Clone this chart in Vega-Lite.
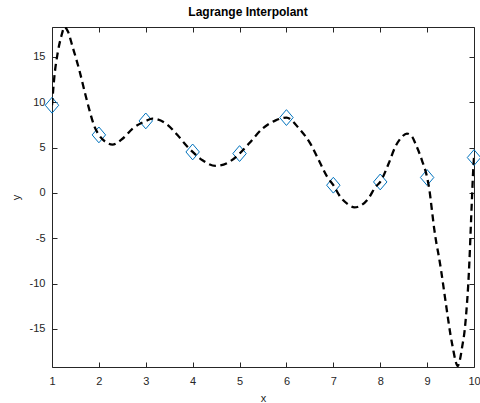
{
  "$schema": "https://vega.github.io/schema/vega-lite/v6.json",
  "width": 422,
  "height": 340,
  "autosize": {"type": "none"},
  "padding": {"left": 52, "top": 27, "right": 6, "bottom": 36},
  "background": "white",
  "title": {
    "text": "Lagrange Interpolant",
    "font": "Liberation Sans",
    "fontSize": 12,
    "fontWeight": "bold",
    "color": "#000000",
    "anchor": "middle",
    "dx": -15,
    "offset": 8
  },
  "config": {
    "view": {"stroke": null},
    "axis": {
      "labelFont": "Liberation Sans",
      "labelFontSize": 11,
      "labelColor": "#262626",
      "titleFont": "Liberation Sans",
      "titleFontSize": 11,
      "titleFontWeight": "normal",
      "titleColor": "#262626",
      "domainColor": "#262626",
      "tickColor": "#262626",
      "grid": false,
      "tickSize": -5
    }
  },
  "datasets": {
    "pts": [
      {"x": 1, "y": 9.67}, {"x": 2, "y": 6.4}, {"x": 3, "y": 7.94}, {"x": 4, "y": 4.52},
      {"x": 5, "y": 4.34}, {"x": 6, "y": 8.31}, {"x": 7, "y": 0.85}, {"x": 8, "y": 1.21},
      {"x": 9, "y": 1.7}, {"x": 10, "y": 3.9}
    ],
    "curve": [
      {"x": 1.0, "y": 9.67}, {"x": 1.05, "y": 12.8}, {"x": 1.12, "y": 15.4}, {"x": 1.2, "y": 17.3},
      {"x": 1.27, "y": 18.3}, {"x": 1.34, "y": 17.8}, {"x": 1.44, "y": 16.1}, {"x": 1.585, "y": 13.5},
      {"x": 1.69, "y": 11.3}, {"x": 1.8, "y": 9.1}, {"x": 1.9, "y": 7.4}, {"x": 2.0, "y": 6.4},
      {"x": 2.15, "y": 5.6}, {"x": 2.29, "y": 5.33}, {"x": 2.51, "y": 6.0}, {"x": 2.72, "y": 7.1},
      {"x": 3.0, "y": 7.94}, {"x": 3.14, "y": 8.2}, {"x": 3.43, "y": 7.65}, {"x": 3.68, "y": 6.36},
      {"x": 3.86, "y": 5.26}, {"x": 4.0, "y": 4.52}, {"x": 4.21, "y": 3.6}, {"x": 4.49, "y": 2.98},
      {"x": 4.78, "y": 3.42}, {"x": 5.0, "y": 4.34}, {"x": 5.2, "y": 5.44}, {"x": 5.49, "y": 7.1},
      {"x": 5.77, "y": 8.0}, {"x": 6.0, "y": 8.31}, {"x": 6.27, "y": 7.1}, {"x": 6.51, "y": 5.44},
      {"x": 6.69, "y": 3.6}, {"x": 6.87, "y": 1.76}, {"x": 7.0, "y": 0.85}, {"x": 7.15, "y": -0.44},
      {"x": 7.3, "y": -1.2}, {"x": 7.45, "y": -1.6}, {"x": 7.6, "y": -1.35}, {"x": 7.75, "y": -0.6},
      {"x": 7.9, "y": 0.66}, {"x": 8.0, "y": 1.21}, {"x": 8.18, "y": 3.24}, {"x": 8.32, "y": 5.07},
      {"x": 8.45, "y": 6.1}, {"x": 8.57, "y": 6.55}, {"x": 8.68, "y": 6.2}, {"x": 8.75, "y": 5.44},
      {"x": 8.89, "y": 3.6}, {"x": 9.0, "y": 1.7}, {"x": 9.05, "y": 0.3}, {"x": 9.1, "y": -1.8},
      {"x": 9.15, "y": -3.9}, {"x": 9.2, "y": -5.6}, {"x": 9.25, "y": -7.0}, {"x": 9.3, "y": -8.6},
      {"x": 9.35, "y": -10.4}, {"x": 9.4, "y": -12.2}, {"x": 9.45, "y": -14.0}, {"x": 9.5, "y": -15.7},
      {"x": 9.55, "y": -17.1}, {"x": 9.6, "y": -18.4}, {"x": 9.65, "y": -19.1}, {"x": 9.7, "y": -18.4},
      {"x": 9.75, "y": -16.9}, {"x": 9.8, "y": -15.2}, {"x": 9.84, "y": -12.9}, {"x": 9.875, "y": -10.3},
      {"x": 9.9, "y": -7.8}, {"x": 9.93, "y": -4.0}, {"x": 9.96, "y": -0.2}, {"x": 9.98, "y": 2.2},
      {"x": 10.0, "y": 3.9}
    ]
  },
  "layer": [
    {
      "data": {"name": "pts"},
      "mark": {
        "type": "point",
        "shape": "M-0.85,0L0,-1L0.85,0L0,1Z",
        "size": 250,
        "filled": false,
        "stroke": "#0072BD",
        "strokeWidth": 1,
        "opacity": 1
      },
      "encoding": {
        "x": {
          "field": "x", "type": "quantitative",
          "scale": {"domain": [1, 10], "nice": false, "zero": false},
          "axis": {"orient": "bottom", "values": [1,2,3,4,5,6,7,8,9,10], "title": "x", "labelPadding": 13, "titlePadding": 6, "labelFlush": false}
        },
        "y": {
          "field": "y", "type": "quantitative",
          "scale": {"domain": [-19.2, 18.3], "nice": false, "zero": false},
          "axis": {
            "orient": "left", "values": [-15,-10,-5,0,5,10,15], "title": "y", "labelPadding": 12, "titlePadding": 8,
            "labelExpr": "datum.value < 0 ? '-' + abs(datum.value) : '' + datum.value"
          }
        }
      }
    },
    {
      "data": {"name": "curve"},
      "mark": {
        "type": "line",
        "color": "#000000",
        "strokeWidth": 2.3,
        "strokeDash": [7, 4.5],
        "clip": true,
        "interpolate": "monotone"
      },
      "encoding": {
        "x": {
          "field": "x", "type": "quantitative",
          "axis": {"orient": "top", "values": [1,2,3,4,5,6,7,8,9,10], "labels": false, "title": null}
        },
        "y": {
          "field": "y", "type": "quantitative",
          "axis": {"orient": "right", "values": [-15,-10,-5,0,5,10,15], "labels": false, "title": null}
        }
      }
    }
  ],
  "resolve": {"axis": {"x": "independent", "y": "independent"}}
}
